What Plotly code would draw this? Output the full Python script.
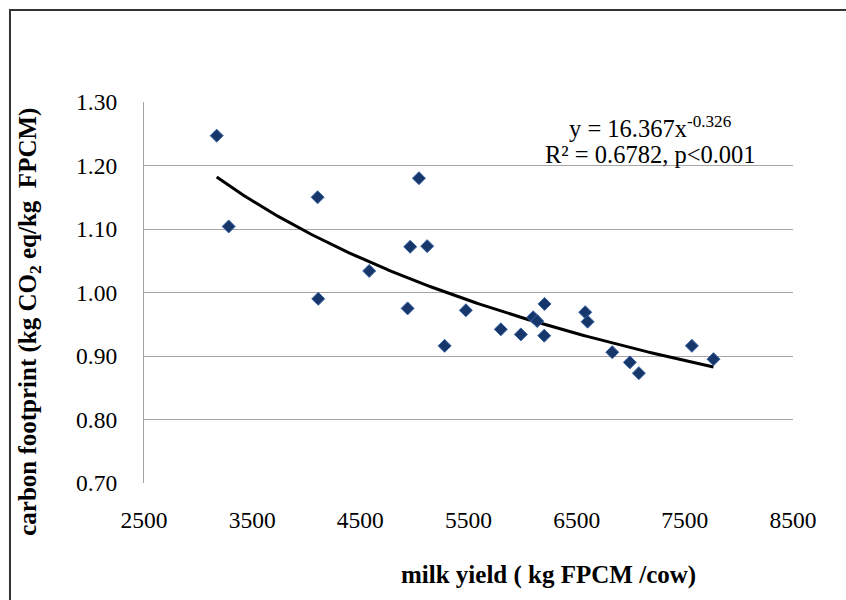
import numpy as np
import plotly.graph_objects as go

# data
milk_yield = [3172, 3283, 4105, 4111, 4582, 4937, 4961, 5042, 5118, 5279, 5476, 5799,
              5984, 6098, 6135, 6203, 6200, 6579, 6601, 6829, 6992, 7075, 7565, 7765]
carbon_fp = [1.247, 1.104, 1.150, 0.990, 1.034, 0.975, 1.072, 1.180, 1.073, 0.916, 0.972, 0.942,
             0.934, 0.961, 0.955, 0.982, 0.932, 0.969, 0.954, 0.906, 0.890, 0.873, 0.916, 0.895]

# power trendline coefficients
coef_a = 16.367
coef_b = -0.326

x_ticks = [2500, 3500, 4500, 5500, 6500, 7500, 8500]
y_ticks = [0.70, 0.80, 0.90, 1.00, 1.10, 1.20, 1.30]

xt = np.linspace(min(milk_yield), max(milk_yield), 200)
yt = coef_a * xt ** coef_b

FONT = "Liberation Serif, Times New Roman, serif"

fig = go.Figure()
fig.add_trace(go.Scatter(x=xt, y=yt, mode="lines",
                         line=dict(color="black", width=3), showlegend=False))
fig.add_trace(go.Scatter(x=milk_yield, y=carbon_fp, mode="markers",
                         marker=dict(symbol="diamond", size=10, color="#17376b",
                                     line=dict(color="#3a64a8", width=1)),
                         showlegend=False))

grid = "#a6a6a6"
fig.update_layout(
    width=846, height=600,
    margin=dict(l=144, r=53, t=102, b=117),
    paper_bgcolor="white", plot_bgcolor="white",
    font=dict(family=FONT, size=23.5, color="black"),
    xaxis=dict(range=[2500, 8500], tickvals=x_ticks, ticktext=[str(v) for v in x_ticks],
               showgrid=False, zeroline=False, showline=False, ticks="",
               ticklabelstandoff=20, tickfont=dict(size=23.5, family=FONT)),
    yaxis=dict(range=[0.70, 1.30], tickvals=y_ticks, ticktext=[f"{v:.2f}" for v in y_ticks],
               showgrid=True, gridcolor=grid, gridwidth=1.3, zeroline=False,
               showline=True, linecolor=grid, linewidth=1.3, ticks="",
               ticklabelstandoff=21, tickfont=dict(size=23.5, family=FONT)),
    shapes=[dict(type="rect", xref="paper", yref="paper",
                 x0=-0.2065, x1=1.2, y0=-0.4, y1=1.2415,
                 line=dict(color="#333333", width=2), fillcolor="rgba(0,0,0,0)", layer="below")],
    annotations=[
        dict(text="y = 16.367x<sup>-0.326</sup>", xref="paper", yref="paper",
             x=0.7797, y=0.935, showarrow=False, xanchor="center", yanchor="middle",
             font=dict(size=24.5, family=FONT)),
        dict(text="R² = 0.6782, p<0.001", xref="paper", yref="paper",
             x=0.7797, y=0.861, showarrow=False, xanchor="center", yanchor="middle",
             font=dict(size=24.5, family=FONT)),
        dict(text="<b>milk yield ( kg FPCM /cow)</b>", xref="paper", yref="paper",
             x=0.6225, y=-0.2415, showarrow=False, xanchor="center", yanchor="middle",
             font=dict(size=25, family=FONT)),
        dict(text="<b>carbon footprint (kg CO<sub>2</sub> eq/kg  FPCM)</b>", xref="paper", yref="paper",
             x=-0.1757, y=0.423, showarrow=False, xanchor="center", yanchor="middle",
             textangle=-90, font=dict(size=25, family=FONT)),
    ],
)

fig.write_html("out.html")
